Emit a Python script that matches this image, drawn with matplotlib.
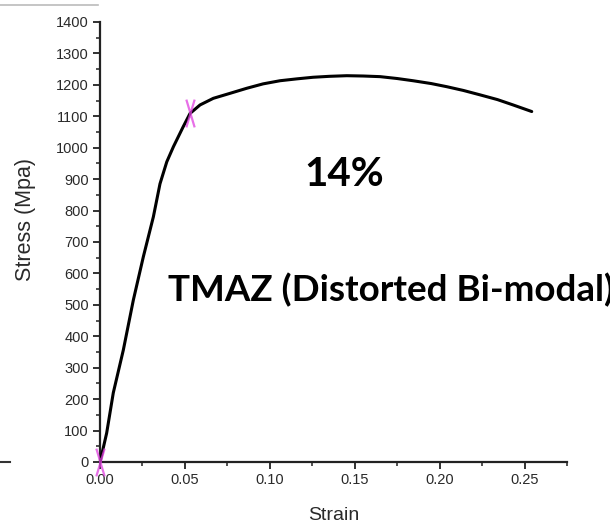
import matplotlib.pyplot as plt
from matplotlib.lines import Line2D
from matplotlib.path import Path
from matplotlib.ticker import MultipleLocator

# stress-strain curve
strain = [0, 0.0039, 0.0078, 0.0137, 0.0196, 0.0255, 0.0314, 0.0353, 0.0393,
          0.0432, 0.049, 0.053, 0.0589, 0.0667, 0.0766, 0.0864, 0.096, 0.106,
          0.116, 0.1254, 0.135, 0.1453, 0.155, 0.1649, 0.175, 0.1843, 0.195,
          0.2042, 0.214, 0.2238, 0.234, 0.2432, 0.2542]
stress = [0, 92, 220, 356, 515, 653, 780, 885, 955,
          1003, 1067, 1109, 1136, 1157, 1173, 1189, 1203, 1213,
          1219, 1224, 1227, 1229, 1228, 1226, 1220, 1213, 1204,
          1194, 1182, 1168, 1153, 1136, 1115]

# magenta markers (start and yield point)
mark_x = [0.0, 0.053]
mark_y = [0, 1109]

xticks = [0.00, 0.05, 0.10, 0.15, 0.20, 0.25]
yticks = list(range(0, 1401, 100))

plt.rcParams['font.family'] = ['Liberation Sans', 'DejaVu Sans']

fig = plt.figure(figsize=(6.1, 5.29), dpi=100)
ax = fig.add_axes([0.164, 0.1267, 0.7656, 0.8318])

ax.plot(strain, stress, color='black', lw=2.2, solid_joinstyle='round',
        solid_capstyle='round', zorder=3)

# narrow vertical cross marker
cross = Path([(-0.3, -1), (0.3, 1), (0.3, -1), (-0.3, 1)],
             [Path.MOVETO, Path.LINETO, Path.MOVETO, Path.LINETO])
ax.plot(mark_x, mark_y, ls='none', marker=cross, markersize=20,
        markeredgecolor='#e040e0', markeredgewidth=1.6, alpha=0.75,
        clip_on=False, zorder=4)

ax.set_xlim(0, 0.275)
ax.set_ylim(0, 1400)
ax.set_xticks(xticks)
ax.set_xticklabels([f'{v:.2f}' for v in xticks])
ax.set_yticks(yticks)
ax.xaxis.set_minor_locator(MultipleLocator(0.025))
ax.yaxis.set_minor_locator(MultipleLocator(50))

for side in ['top', 'right']:
    ax.spines[side].set_visible(False)
for side in ['left', 'bottom']:
    ax.spines[side].set_linewidth(1.6)
    ax.spines[side].set_color('#222222')

ax.tick_params(axis='both', which='major', direction='out', length=5, width=1.3,
               color='#222222', labelsize=10.5, labelcolor='#2a2a2a', pad=3)
ax.tick_params(axis='both', which='minor', direction='out', length=3, width=1.1,
               color='#222222')

ax.set_xlabel('Strain', fontsize=14, color='#2a2a2a')
ax.set_ylabel('Stress (Mpa)', fontsize=15.5, color='#2a2a2a')
ax.xaxis.set_label_coords(0.5, -0.103)
ax.yaxis.set_label_coords(-0.137, 0.55)

# annotations
fig.text(0.564, 0.671, '14%', family=['Lato', 'DejaVu Sans'], weight='bold',
         fontsize=29, ha='center', va='center', color='black')
fig.text(0.275, 0.451, 'TMAZ (Distorted Bi-modal)', family=['Lato', 'DejaVu Sans'],
         weight='bold', fontsize=26.5, ha='left', va='center', color='black')

# leftover edges of a neighbouring panel in the source image
fig.add_artist(Line2D([0.0, 0.16], [0.99, 0.99], color='#bbbbbb', lw=1.2))
fig.add_artist(Line2D([0.0, 0.016], [0.127, 0.127], color='#333333', lw=1.5))

fig.savefig('out.png', dpi=100)
